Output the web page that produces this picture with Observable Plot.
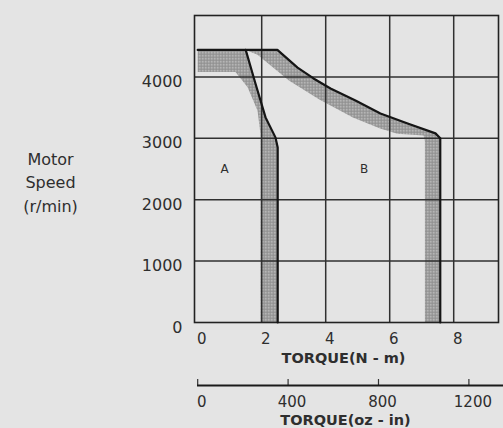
<!DOCTYPE html>
<html><head><meta charset="utf-8">
<script src="https://cdn.jsdelivr.net/npm/d3@7"></script>
<script src="https://cdn.jsdelivr.net/npm/@observablehq/plot@0.6"></script>
<style>
html,body{margin:0;padding:0;background:#e4e4e4;}
#wrap{position:relative;width:503px;height:428px;overflow:hidden;}
#wrap svg{position:absolute;left:0;}
</style></head><body><div id="wrap"></div>
<script>
// ---- data ----
const speedTicks = [0, 1000, 2000, 3000, 4000];
const gridSpeeds = [1000, 2000, 3000, 4000];
const torqueTicks = [0, 2, 4, 6, 8];
const gridTorques = [2, 4, 6, 8];
const ozTicks = [0, 400, 800, 1200];
const OZIN_PER_NM = 141.6;

// region A: continuous duty boundary (torque N·m, speed r/min)
const curveA = [[1.5, 4440], [1.8, 3900], [2.12, 3340], [2.43, 3015], [2.5, 2850], [2.5, 0]];
const bandAInner = [[0, 4080], [1.18, 4080], [1.56, 3830], [1.87, 3450], [1.96, 3080], [1.96, 0]];
// region B: intermittent duty boundary
const curveB = [[0, 4440], [2.49, 4440], [3.12, 4150], [3.62, 3975], [4.15, 3810], [4.93, 3615],
                [5.71, 3405], [6.56, 3240], [7.43, 3080], [7.58, 3000], [7.58, 0]];
const bandBInner = [[1.87, 4360], [2.85, 3940], [3.8, 3630], [4.85, 3340], [5.7, 3160],
                    [6.24, 3075], [7.06, 3045], [7.1, 2950], [7.1, 0]];

const regionNames = ["A", "B"];
const regionTorque = [0.84, 5.2];
const regionSpeed = [2500, 2500];

// ---- build ----
const bandA = [[0, 4440], ...curveA, ...[...bandAInner].reverse()];
const bandB = [[1.5, 4440], ...curveB.filter(p => p[0] > 1.5), ...[...bandBInner].reverse()];

const font = "'DejaVu Sans', sans-serif";
const ink = "#2e2e2e";
const gx = d => d[0], gy = d => d[1];
const plain = d => String(d);

const p1 = Plot.plot({
  width: 503, height: 370,
  marginLeft: 194, marginRight: 5, marginTop: 15, marginBottom: 48,
  style: {background: "transparent", fontFamily: font, fontSize: "16px", color: ink, overflow: "visible"},
  x: {domain: [-0.1, 9.4]},
  y: {domain: [0, 5000]},
  marks: [
    Plot.line(bandA, {x: gx, y: gy, fill: "url(#dither)", stroke: "none"}),
    Plot.line(bandB, {x: gx, y: gy, fill: "url(#dither)", stroke: "none"}),
    Plot.ruleX(gridTorques, {stroke: "#303030", strokeWidth: 1.5}),
    Plot.ruleY(gridSpeeds, {stroke: "#303030", strokeWidth: 1.5}),
    Plot.frame({stroke: "#222", strokeWidth: 1.6}),
    Plot.line(curveA, {x: gx, y: gy, stroke: "#151515", strokeWidth: 2.2}),
    Plot.line(curveB, {x: gx, y: gy, stroke: "#151515", strokeWidth: 2.2}),
    Plot.axisY(speedTicks, {tickSize: 0, tickPadding: 12, dy: 5, fontSize: 16, label: null, fill: ink, tickFormat: plain}),
    Plot.axisX(torqueTicks, {tickSize: 0, tickPadding: 11, dx: 4, fontSize: 15, label: null, fill: ink, tickFormat: plain}),
    Plot.text(["TORQUE(N - m)"], {text: d => d, frameAnchor: "bottom", lineAnchor: "middle", dy: 36, dx: -3,
      fontWeight: "bold", fontSize: 14.5, fill: ink}),
    Plot.text(["Motor\nSpeed\n(r/min)"], {text: d => d, frameAnchor: "left", textAnchor: "middle",
      lineAnchor: "middle", dx: -144, dy: 12, lineHeight: 1.45, fontSize: 16, fill: ink}),
    Plot.text(regionNames, {text: d => d, x: (d, i) => regionTorque[i], y: (d, i) => regionSpeed[i],
      fontSize: 12, fill: ink})
  ]
});

const svg1 = p1.tagName.toLowerCase() === "svg" ? p1 : p1.querySelector("svg");
const defs = document.createElementNS("http://www.w3.org/2000/svg", "defs");
defs.innerHTML = '<pattern id="dither" width="3" height="3" patternUnits="userSpaceOnUse">' +
  '<rect width="3" height="3" fill="#8e8e8e"/><rect x="0.5" y="0.5" width="1.5" height="1.5" fill="#d4d4d4"/></pattern>';
svg1.insertBefore(defs, svg1.firstChild);
svg1.style.top = "0px";

const K = OZIN_PER_NM;
const p2 = Plot.plot({
  width: 503, height: 58,
  marginLeft: 197, marginRight: 0, marginTop: 9, marginBottom: 43,
  style: {background: "transparent", fontFamily: font, fontSize: "16px", color: ink, overflow: "visible"},
  x: {domain: [-0.006 * K, 9.556 * K]},
  y: {domain: [0, 1], axis: null},
  marks: [
    Plot.tickX(ozTicks, {x: d => d, stroke: "#333", strokeWidth: 1.2}),
    Plot.ruleY([0], {stroke: "#1a1a1a", strokeWidth: 1.8}),
    Plot.axisX(ozTicks, {tickSize: 0, tickPadding: 11, dx: 4, fontSize: 15, label: null, fill: ink, tickFormat: plain}),
    Plot.text(["TORQUE(oz - in)"], {text: d => d, frameAnchor: "bottom", lineAnchor: "middle", dy: 35, dx: -5,
      fontWeight: "bold", fontSize: 14.5, fill: ink})
  ]
});
const svg2 = p2.tagName.toLowerCase() === "svg" ? p2 : p2.querySelector("svg");
svg2.style.top = "370px";

const wrap = document.getElementById("wrap");
wrap.appendChild(p1);
wrap.appendChild(p2);
</script></body></html>
